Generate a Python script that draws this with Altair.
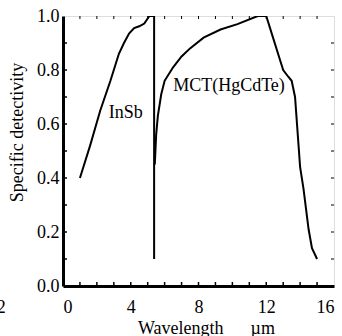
import altair as alt
import pandas as pd

# --- data ---
insb_x = [1.0, 1.6, 2.2, 2.8, 3.3, 3.6, 3.9, 4.2, 4.5, 4.8, 5.1, 5.38, 5.38]
insb_y = [0.40, 0.52, 0.65, 0.76, 0.86, 0.90, 0.935, 0.955, 0.962, 0.972, 1.0, 1.0, 0.10]

mct_x = [5.42, 5.5, 5.6, 5.8, 6.0, 6.5, 7.0, 7.5, 8.3, 9.3, 10.3, 11.5, 12.0,
         12.4, 12.8, 13.0, 13.3, 13.5, 13.7, 14.0, 14.2, 14.5, 14.7, 15.0]
mct_y = [0.45, 0.56, 0.63, 0.71, 0.76, 0.81, 0.85, 0.88, 0.92, 0.95, 0.97, 1.0, 1.0,
         0.92, 0.84, 0.80, 0.775, 0.76, 0.70, 0.44, 0.36, 0.21, 0.14, 0.10]

x_ticks = [0, 4, 8, 12, 16]
y_ticks = [0.0, 0.2, 0.4, 0.6, 0.8, 1.0]
x_minor = list(range(1, 16))
y_minor = [round(0.1 * i, 1) for i in range(1, 10)]

labels = ["InSb", "MCT(HgCdTe)"]
label_x = [3.7, 9.8]
label_y = [0.64, 0.74]

W, H = 271, 270
FONT = "Liberation Serif"
FS = 18
NB = "\u00a0"

df = pd.concat([
    pd.DataFrame({"x": insb_x, "y": insb_y, "s": "InSb", "o": range(len(insb_x))}),
    pd.DataFrame({"x": mct_x, "y": mct_y, "s": "MCT", "o": range(len(mct_x))}),
])

xs = alt.Scale(domain=[0, 16], nice=False)
ys = alt.Scale(domain=[0, 1], nice=False)

lines = alt.Chart(df).mark_line(color="black", strokeWidth=2, clip=True).encode(
    x=alt.X("x:Q", scale=xs, axis=alt.Axis(
        values=x_ticks, format="d", ticks=False, tickSize=0, labelPadding=12,
        domain=True, domainColor="black", domainWidth=3, grid=False,
        title="Wavelength" + NB * 6 + "µm", titleX=143, titleY=47,
        titleBaseline="alphabetic", titleAlign="center",
        labelFontSize=FS, titleFontSize=FS, labelFont=FONT, titleFont=FONT,
        titleFontWeight="normal", labelColor="black", titleColor="black")),
    y=alt.Y("y:Q", scale=ys, axis=alt.Axis(
        values=y_ticks, format=".1f", ticks=False, tickSize=0, labelPadding=4,
        domain=True, domainColor="black", domainWidth=3, grid=False,
        title="Specific detectivity", titleX=-46, titleY=116, titleAngle=270,
        titleAlign="center", titleBaseline="middle",
        labelFontSize=FS, titleFontSize=FS, labelFont=FONT, titleFont=FONT,
        titleFontWeight="normal", labelColor="black", titleColor="black")),
    detail="s:N",
    order="o:Q",
)

txt = alt.Chart(pd.DataFrame({"t": labels, "x": label_x, "y": label_y})).mark_text(
    font=FONT, fontSize=FS, color="black", align="center", baseline="middle"
).encode(x=alt.X("x:Q", scale=xs), y=alt.Y("y:Q", scale=ys), text="t:N")

tb = pd.DataFrame({"x": x_minor})
bottom_t = alt.Chart(tb).mark_rule(color="black", strokeWidth=1.5).encode(
    x=alt.X("x:Q", scale=xs), y=alt.value(H), y2=alt.value(H - 4))
top_t = alt.Chart(tb).mark_rule(color="black", strokeWidth=1).encode(
    x=alt.X("x:Q", scale=xs), y=alt.value(0), y2=alt.value(3))
tl = pd.DataFrame({"y": y_minor})
left_t = alt.Chart(tl).mark_rule(color="black", strokeWidth=1.5).encode(
    y=alt.Y("y:Q", scale=ys), x=alt.value(0), x2=alt.value(4))
right_t = alt.Chart(tl).mark_rule(color="black", strokeWidth=1).encode(
    y=alt.Y("y:Q", scale=ys), x=alt.value(W), x2=alt.value(W - 3))

stray = alt.Chart(pd.DataFrame({"t": ["2"], "x": [-3.65]})).mark_text(
    font=FONT, fontSize=FS, color="black", align="center", baseline="middle", clip=False
).encode(x=alt.X("x:Q", scale=xs), y=alt.value(H + 22), text="t:N")

chart = alt.layer(lines, txt, bottom_t, top_t, left_t, right_t, stray).properties(
    width=W, height=H,
    autosize=alt.AutoSizeParams(type="none"),
    padding={"left": 63, "top": 16, "right": 8, "bottom": 50},
).configure_view(stroke="black", strokeWidth=2).configure(background="white")

chart.save("out.html", embed_options={"renderer": "svg", "actions": False})
